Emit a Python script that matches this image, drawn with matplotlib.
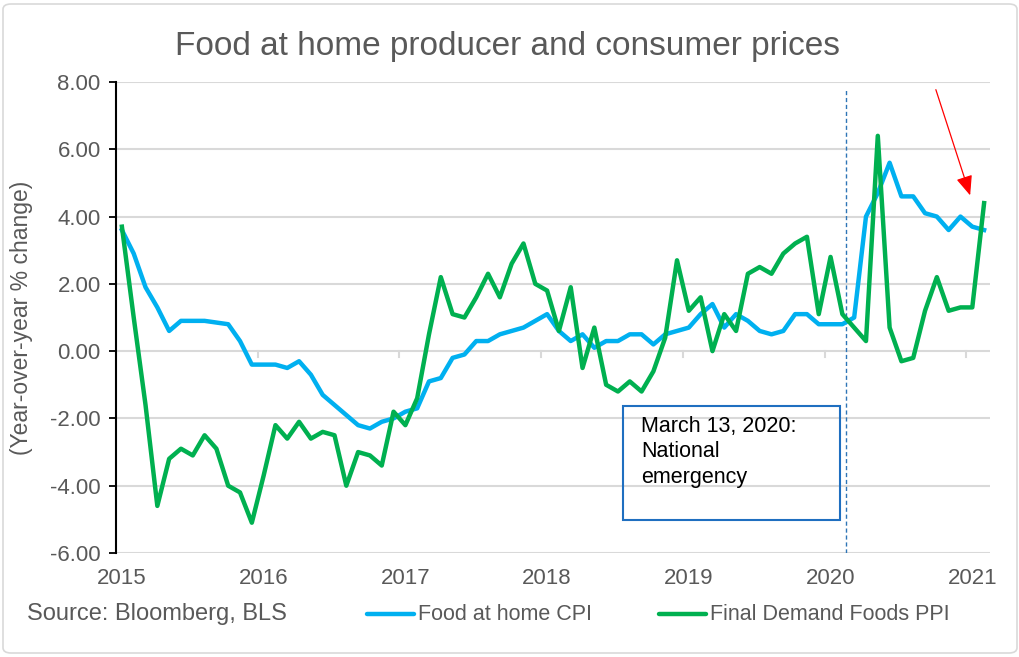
import matplotlib.pyplot as plt
from matplotlib.lines import Line2D
from matplotlib.patches import FancyBboxPatch, Rectangle

plt.rcParams['font.family'] = ['Liberation Sans', 'DejaVu Sans']

# monthly, Jan 2015 .. Feb 2021
cpi = [3.6, 2.9, 1.9, 1.3, 0.6, 0.9, 0.9, 0.9, 0.85, 0.8, 0.3, -0.4,
       -0.4, -0.4, -0.5, -0.3, -0.7, -1.3, -1.6, -1.9, -2.2, -2.3, -2.1, -2.0,
       -1.8, -1.7, -0.9, -0.8, -0.2, -0.1, 0.3, 0.3, 0.5, 0.6, 0.7, 0.9,
       1.1, 0.6, 0.3, 0.5, 0.1, 0.3, 0.3, 0.5, 0.5, 0.2, 0.5, 0.6,
       0.7, 1.1, 1.4, 0.7, 1.1, 0.9, 0.6, 0.5, 0.6, 1.1, 1.1, 0.8,
       0.8, 0.8, 1.0, 4.0, 4.7, 5.6, 4.6, 4.6, 4.1, 4.0, 3.6, 4.0,
       3.7, 3.6]
ppi = [3.7, 1.0, -1.6, -4.6, -3.2, -2.9, -3.1, -2.5, -2.9, -4.0, -4.2, -5.1,
       -3.7, -2.2, -2.6, -2.1, -2.6, -2.4, -2.5, -4.0, -3.0, -3.1, -3.4, -1.8,
       -2.2, -1.4, 0.5, 2.2, 1.1, 1.0, 1.6, 2.3, 1.6, 2.6, 3.2, 2.0,
       1.8, 0.6, 1.9, -0.5, 0.7, -1.0, -1.2, -0.9, -1.2, -0.6, 0.4, 2.7,
       1.2, 1.6, 0.0, 1.1, 0.6, 2.3, 2.5, 2.3, 2.9, 3.2, 3.4, 1.1,
       2.8, 1.1, 0.7, 0.3, 6.4, 0.7, -0.3, -0.2, 1.2, 2.2, 1.2, 1.3,
       1.3, 4.4]
years = ['2015', '2016', '2017', '2018', '2019', '2020', '2021']
yticks = [-6, -4, -2, 0, 2, 4, 6, 8]
emergency_x = 61.3

fig = plt.figure(figsize=(10.2, 6.57), dpi=100)
ax = fig.add_axes([116/1020, 1-553/657, 874/1020, 471/657])

x = list(range(len(cpi)))
for y in yticks:
    ax.axhline(y, color='#D9D9D9', lw=1.5, zorder=0)
ax.plot(x, cpi, color='#00B0F0', lw=3.2, solid_joinstyle='round', zorder=3)
ax.plot(x, ppi, color='#00B050', lw=3.2, solid_joinstyle='round', zorder=4)

# category tick marks on the zero line
for k in range(1, 7):
    ax.plot([12*k - 0.5]*2, [0, -0.17], color='#D9D9D9', lw=1.5, zorder=1)

ax.set_xlim(-0.5, 73.5)
ax.set_ylim(-6, 8)
ax.set_yticks(yticks)
ax.set_yticklabels([f'{v:.2f}' for v in yticks], fontsize=16, color='#595959')
ax.set_xticks(range(0, 73, 12))
ax.set_xticklabels(years, fontsize=16, color='#595959')
ax.tick_params(axis='x', length=0, pad=11)
ax.tick_params(axis='y', length=5, width=1.3, color='black', pad=6)
for s in ['top', 'right', 'bottom']:
    ax.spines[s].set_visible(False)
ax.spines['left'].set_linewidth(1.5)
ax.set_ylabel('(Year-over-year % change)', fontsize=16.5, color='#595959', labelpad=12)

ax.axvline(emergency_x, ymin=0, ymax=(7.75+6)/14, color='#2E75B6', lw=1, ls=(0, (3, 2)), zorder=2)

ax.add_patch(Rectangle((623/1020, 1-520/657), 217/1020, 114/657, transform=fig.transFigure,
                       fill=False, edgecolor='#1F6FC0', lw=1.5, zorder=5))
fig.text(641/1020, 1-416/657, 'March 13, 2020:\nNational\nemergency', fontsize=15.5,
         va='top', ha='left', color='black', linespacing=1.27)

ax.annotate('', xy=(971/1020, 1-198/657), xytext=(935/1020, 1-87/657),
            xycoords='figure fraction', textcoords='figure fraction',
            arrowprops=dict(arrowstyle='-|>,head_length=1.2,head_width=0.5',
                            color='#FF0000', lw=0.9))

fig.text(508/1020, 1-47/657, 'Food at home producer and consumer prices',
         fontsize=24, color='#595959', ha='center', va='center')

# bottom legend / source
ly = 1 - 614/657
fig.text(27/1020, ly, 'Source: Bloomberg, BLS', fontsize=17, color='#595959', va='center')
fig.add_artist(Line2D([367/1020, 414/1020], [ly, ly], color='#00B0F0', lw=3.2,
                      solid_capstyle='round'))
fig.text(418/1020, ly, 'Food at home CPI', fontsize=15.5, color='#595959', va='center')
fig.add_artist(Line2D([659/1020, 706/1020], [ly, ly], color='#00B050', lw=3.2,
                      solid_capstyle='round'))
fig.text(710/1020, ly, 'Final Demand Foods PPI', fontsize=15.5, color='#595959', va='center')

fig.add_artist(FancyBboxPatch((3/1020, 4/657), 1014/1020, 649/657,
                              boxstyle='round,pad=0,rounding_size=0.008',
                              transform=fig.transFigure, fill=False,
                              edgecolor='#D9D9D9', lw=1.2))

fig.savefig('out.png', dpi=100)
